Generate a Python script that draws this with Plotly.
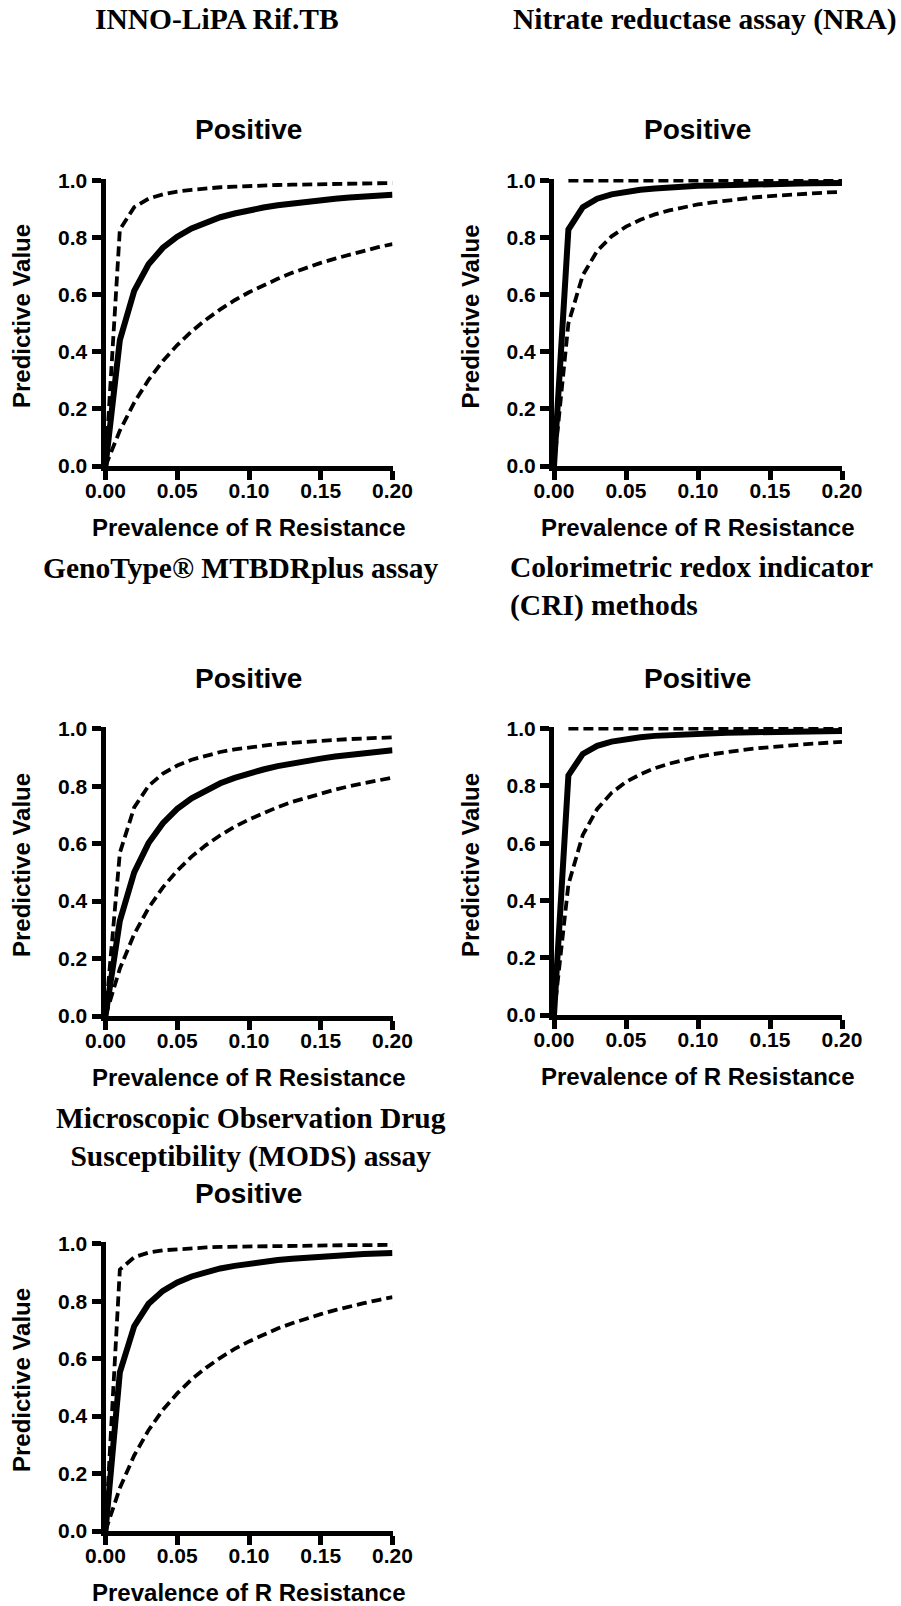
import plotly.graph_objects as go

# ---------------- data ----------------
prevalence = [0.00, 0.01, 0.02, 0.03, 0.04, 0.05, 0.06, 0.07, 0.08, 0.09, 0.10,
              0.11, 0.12, 0.13, 0.14, 0.15, 0.16, 0.17, 0.18, 0.19, 0.20]

panel_titles = ["INNO-LiPA Rif.TB",
                "Nitrate reductase assay (NRA)",
                "GenoType® MTBDRplus assay",
                "Colorimetric redox indicator<br>(CRI) methods",
                "Microscopic Observation Drug<br>Susceptibility (MODS) assay"]

# INNO-LiPA Rif.TB
inno_ppv = [0, 0.441, 0.614, 0.707, 0.765, 0.804, 0.833, 0.854, 0.872, 0.885, 0.897,
            0.906, 0.914, 0.921, 0.927, 0.932, 0.937, 0.941, 0.945, 0.948, 0.951]
inno_upper = [0, 0.829, 0.907, 0.937, 0.952, 0.962, 0.968, 0.973, 0.977, 0.979, 0.982,
              0.983, 0.985, 0.986, 0.987, 0.988, 0.989, 0.990, 0.991, 0.991, 0.992]
inno_lower = [0, 0.124, 0.222, 0.302, 0.368, 0.424, 0.472, 0.513, 0.549, 0.581, 0.609,
              0.634, 0.656, 0.677, 0.695, 0.712, 0.727, 0.741, 0.754, 0.767, 0.778]

# Nitrate reductase assay (NRA)
nra_ppv = [0, 0.829, 0.907, 0.937, 0.952, 0.962, 0.968, 0.973, 0.977, 0.979, 0.982,
           0.983, 0.985, 0.986, 0.987, 0.988, 0.989, 0.990, 0.991, 0.991, 0.992]
nra_upper = [None, 1.0, 1.0, 1.0, 1.0, 1.0, 1.0, 1.0, 1.0, 1.0, 1.0,
             1.0, 1.0, 1.0, 1.0, 1.0, 1.0, 1.0, 1.0, 1.0, 1.0]
nra_lower = [0, 0.500, 0.669, 0.754, 0.805, 0.839, 0.863, 0.882, 0.896, 0.907, 0.917,
             0.924, 0.931, 0.937, 0.942, 0.946, 0.950, 0.953, 0.956, 0.959, 0.961]

# GenoType MTBDRplus assay
geno_ppv = [0, 0.331, 0.500, 0.602, 0.671, 0.721, 0.758, 0.787, 0.810, 0.829, 0.845,
            0.858, 0.870, 0.880, 0.889, 0.896, 0.903, 0.909, 0.915, 0.920, 0.925]
geno_upper = [0, 0.568, 0.726, 0.801, 0.844, 0.872, 0.892, 0.907, 0.919, 0.928, 0.935,
              0.941, 0.947, 0.951, 0.955, 0.958, 0.961, 0.964, 0.966, 0.968, 0.970]
geno_lower = [0, 0.165, 0.285, 0.376, 0.448, 0.506, 0.555, 0.595, 0.629, 0.659, 0.684,
              0.707, 0.727, 0.745, 0.760, 0.775, 0.788, 0.800, 0.811, 0.821, 0.830]

# Colorimetric redox indicator (CRI) methods
cri_ppv = [0, 0.837, 0.912, 0.940, 0.955, 0.964, 0.970, 0.975, 0.978, 0.981, 0.983,
           0.984, 0.986, 0.987, 0.988, 0.989, 0.990, 0.991, 0.991, 0.992, 0.992]
cri_upper = [None, 1.0, 1.0, 1.0, 1.0, 1.0, 1.0, 1.0, 1.0, 1.0, 1.0,
             1.0, 1.0, 1.0, 1.0, 1.0, 1.0, 1.0, 1.0, 1.0, 1.0]
cri_lower = [0, 0.456, 0.629, 0.720, 0.776, 0.814, 0.841, 0.862, 0.878, 0.891, 0.902,
             0.911, 0.919, 0.925, 0.931, 0.936, 0.941, 0.944, 0.948, 0.951, 0.954]

# MODS assay
mods_ppv = [0, 0.552, 0.713, 0.791, 0.836, 0.865, 0.886, 0.902, 0.914, 0.923, 0.931,
            0.938, 0.943, 0.948, 0.952, 0.956, 0.959, 0.962, 0.964, 0.966, 0.968]
mods_upper = [0, 0.910, 0.953, 0.969, 0.977, 0.981, 0.985, 0.987, 0.989, 0.990, 0.991,
              0.992, 0.993, 0.993, 0.994, 0.994, 0.995, 0.995, 0.995, 0.996, 0.996]
mods_lower = [0, 0.150, 0.263, 0.351, 0.422, 0.479, 0.528, 0.568, 0.603, 0.634, 0.660,
              0.684, 0.705, 0.723, 0.740, 0.755, 0.769, 0.782, 0.793, 0.804, 0.814]

x_ticks = [0.00, 0.05, 0.10, 0.15, 0.20]
y_ticks = [0.0, 0.2, 0.4, 0.6, 0.8, 1.0]
x_title = "Prevalence of R Resistance"
y_title = "Predictive Value"
sub_title = "Positive"

# ---------------- layout geometry ----------------
W, H = 901, 1606
SANS = "Liberation Sans, Arial, sans-serif"
SERIF = "Liberation Serif, Times New Roman, serif"


def px_x(x):
    return x / W


def px_y(y):
    return 1 - y / H


# (left, right) px columns, (top, bottom) px rows
panels = [
    dict(cols=(105.5, 392.5), rows=(179, 466), data=(inno_ppv, inno_upper, inno_lower),
         title=dict(x=217, y=19, anchor="center", align="center")),
    dict(cols=(554, 842), rows=(179, 466), data=(nra_ppv, nra_upper, nra_lower),
         title=dict(x=705, y=19, anchor="center", align="center")),
    dict(cols=(105.5, 392.5), rows=(727, 1016), data=(geno_ppv, geno_upper, geno_lower),
         title=dict(x=241, y=568, anchor="center", align="center")),
    dict(cols=(554, 842), rows=(727, 1015), data=(cri_ppv, cri_upper, cri_lower),
         title=dict(x=508, y=586, anchor="left", align="left")),
    dict(cols=(105.5, 392.5), rows=(1242, 1531), data=(mods_ppv, mods_upper, mods_lower),
         title=dict(x=251, y=1137, anchor="center", align="center")),
]

fig = go.Figure()
annotations = []
layout_axes = {}

for i, p in enumerate(panels):
    n = "" if i == 0 else str(i + 1)
    xa, ya = "x" + n, "y" + n
    ppv, upper, lower = p["data"]
    fig.add_trace(go.Scatter(x=prevalence, y=upper, mode="lines", xaxis=xa, yaxis=ya,
                             line=dict(color="black", width=3.8, dash="10px,5px"),
                             showlegend=False, hoverinfo="x+y"))
    fig.add_trace(go.Scatter(x=prevalence, y=lower, mode="lines", xaxis=xa, yaxis=ya,
                             line=dict(color="black", width=3.8, dash="10px,5px"),
                             showlegend=False, hoverinfo="x+y"))
    fig.add_trace(go.Scatter(x=prevalence, y=ppv, mode="lines", xaxis=xa, yaxis=ya,
                             line=dict(color="black", width=6),
                             showlegend=False, hoverinfo="x+y"))

    l, r = p["cols"]
    t, b = p["rows"]
    common = dict(showgrid=False, zeroline=False, showline=True, linecolor="black",
                  linewidth=5, ticks="outside", ticklen=9, tickwidth=5, tickcolor="black",
                  tickfont=dict(family=SANS, size=21, color="black", weight="bold"),
                  automargin=False, fixedrange=True)
    layout_axes["xaxis" + n] = dict(domain=[px_x(l), px_x(r)], anchor=ya, range=[0, 0.2],
                                    tickmode="array", tickvals=x_ticks, tickformat=".2f",
                                    ticklabelstandoff=-7, **common)
    layout_axes["yaxis" + n] = dict(domain=[px_y(b), px_y(t)], anchor=xa, range=[0, 1.006],
                                    tickmode="array", tickvals=y_ticks, tickformat=".1f",
                                    ticklabelstandoff=0, **common)

    cx = (l + r) / 2
    # "Positive" subtitle
    annotations.append(dict(text="<b>" + sub_title + "</b>", x=px_x(cx - 0.5), y=px_y(t - 49),
                            xref="paper", yref="paper", xanchor="center", yanchor="middle",
                            showarrow=False, font=dict(family=SANS, size=28, color="black")))
    # x title
    annotations.append(dict(text="<b>" + x_title + "</b>", x=px_x(cx), y=px_y(b + 61),
                            xref="paper", yref="paper", xanchor="center", yanchor="middle",
                            showarrow=False, font=dict(family=SANS, size=24, color="black")))
    # y title
    annotations.append(dict(text="<b>" + y_title + "</b>", x=px_x(l - 84), y=px_y((t + b) / 2 - 6),
                            xref="paper", yref="paper", xanchor="center", yanchor="middle",
                            textangle=-90, showarrow=False,
                            font=dict(family=SANS, size=24, color="black")))
    # section title
    ti = p["title"]
    annotations.append(dict(text="<b>" + panel_titles[i] + "</b>", x=px_x(ti["x"]), y=px_y(ti["y"]),
                            xref="paper", yref="paper", xanchor=ti["anchor"], yanchor="middle",
                            align=ti["align"], showarrow=False,
                            font=dict(family=SERIF, size=29.5, color="black")))

fig.update_layout(template="none", width=W, height=H,
                  margin=dict(l=0, r=0, t=0, b=0, autoexpand=False),
                  paper_bgcolor="white", plot_bgcolor="white",
                  annotations=annotations, **layout_axes)

fig.write_html("out.html", include_plotlyjs=True, config={"displayModeBar": False},
               post_script="document.body.style.margin='0';document.body.style.padding='0';")
